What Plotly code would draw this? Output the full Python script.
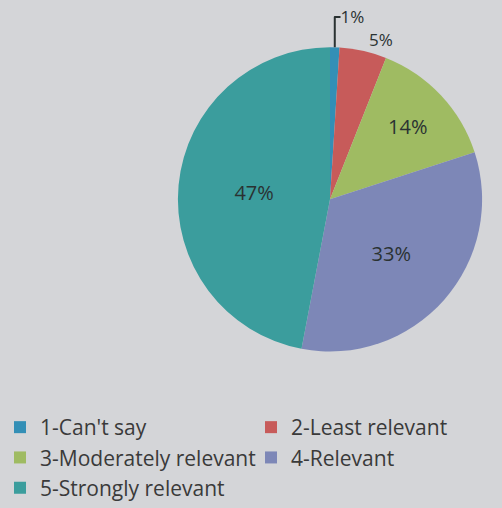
import plotly.graph_objects as go

categories = ["1-Can't say", "2-Least relevant", "3-Moderately relevant", "4-Relevant", "5-Strongly relevant"]
values = [1, 5, 14, 33, 47]
colors = ["#338fb6", "#c75b5a", "#9fbb62", "#7d87b7", "#3b9d9d"]
text_positions = ["outside", "outside", "inside", "inside", "inside"]

BG = "#d4d5d8"

fig = go.Figure(go.Pie(
    labels=categories,
    values=values,
    sort=False,
    direction="clockwise",
    rotation=0,
    marker=dict(colors=colors, line=dict(width=0)),
    textinfo="percent",
    textposition=text_positions,
    insidetextorientation="horizontal",
    insidetextfont=dict(family="Open Sans", size=20, color="#2a3232"),
    outsidetextfont=dict(family="Open Sans", size=17, color="#2a3232"),
    domain=dict(x=[172/502, 488/502], y=[1-363/508, 1-47/508]),
))

fig.update_layout(
    width=502, height=508,
    margin=dict(l=0, r=0, t=0, b=0),
    paper_bgcolor=BG,
    plot_bgcolor=BG,
    font=dict(family="Open Sans", size=21, color="#3a3a3a"),
    showlegend=True,
    legend=dict(
        orientation="h",
        x=0, xanchor="left",
        y=1-421/508, yanchor="top",
        entrywidthmode="fraction",
        entrywidth=0.5,
        bgcolor="rgba(0,0,0,0)",
        font=dict(family="Open Sans", size=21, color="#3a3a3a"),
        traceorder="normal",
        tracegroupgap=0,
    ),
)

fig.write_html(
    "out.html",
    config={"displayModeBar": False},
    post_script="document.body.style.margin='0';document.body.style.background='" + BG + "';",
)
